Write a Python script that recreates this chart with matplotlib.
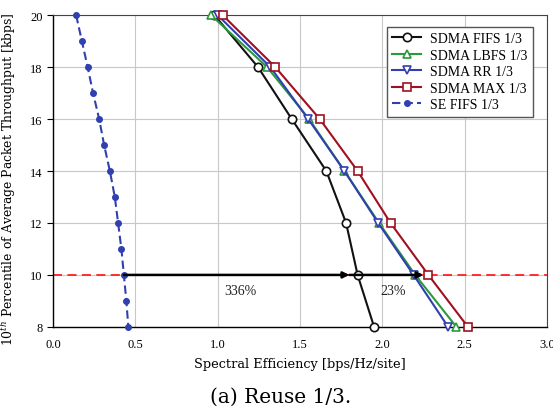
import matplotlib
matplotlib.use("Agg")
import matplotlib.pyplot as plt

# throughput levels (10th percentile, kbps)
Y_SDMA = [20, 18, 16, 14, 12, 10, 8]
Y_SE = [20, 19, 18, 17, 16, 15, 14, 13, 12, 11, 10, 9, 8]

# spectral efficiency for each scheme
SE_FIFS = [0.14, 0.175, 0.21, 0.243, 0.28, 0.31, 0.345, 0.375, 0.395, 0.415, 0.43, 0.445, 0.457]
SDMA_FIFS = [0.98, 1.245, 1.45, 1.66, 1.78, 1.85, 1.95]
SDMA_LBFS = [0.96, 1.30, 1.555, 1.77, 1.98, 2.20, 2.45]
SDMA_RR = [1.00, 1.32, 1.55, 1.77, 1.975, 2.19, 2.40]
SDMA_MAX = [1.03, 1.35, 1.62, 1.85, 2.05, 2.28, 2.52]

REF_LEVEL = 10
GAIN_LABELS = ["336%", "23%"]

SERIES = [
    ("SDMA FIFS 1/3", SDMA_FIFS, "#111111", "o"),
    ("SDMA LBFS 1/3", SDMA_LBFS, "#2a9a3a", "^"),
    ("SDMA RR 1/3", SDMA_RR, "#3040b0", "v"),
    ("SDMA MAX 1/3", SDMA_MAX, "#a01020", "s"),
]

plt.rcParams.update({
    "font.family": ["Liberation Serif", "DejaVu Serif"],
    "font.size": 9,
    "mathtext.fontset": "dejavuserif",
})

fig = plt.figure(figsize=(5.53, 4.14), dpi=100)
ax = fig.add_axes([0.096, 0.208, 0.893, 0.753])

ax.axhline(REF_LEVEL, color="#ff2020", linestyle=(0, (5, 3)), linewidth=1.3, zorder=1)

for label, xs, color, marker in SERIES:
    ax.plot(xs, Y_SDMA, color=color, marker=marker, markersize=6,
            markerfacecolor="white", markeredgewidth=1.2, linewidth=1.5,
            label=label, zorder=3, clip_on=False)

ax.plot(SE_FIFS, Y_SE, color="#3040b0", linestyle=(0, (4, 2)), marker="o",
        markersize=4, linewidth=1.5, label="SE FIFS 1/3", zorder=3, clip_on=False)

# gain arrows at the reference throughput
se_ref = SE_FIFS[Y_SE.index(REF_LEVEL)]
fifs_ref = SDMA_FIFS[Y_SDMA.index(REF_LEVEL)]
max_ref = SDMA_MAX[Y_SDMA.index(REF_LEVEL)]
arrow = dict(arrowstyle="-|>", color="black", linewidth=1.8, mutation_scale=9,
             shrinkA=0, shrinkB=0)
ax.annotate("", xy=(fifs_ref - 0.05, REF_LEVEL), xytext=(se_ref, REF_LEVEL),
            arrowprops=arrow, zorder=4)
ax.annotate("", xy=(max_ref - 0.03, REF_LEVEL), xytext=(fifs_ref - 0.05, REF_LEVEL),
            arrowprops=arrow, zorder=4)
ax.text((se_ref + fifs_ref) / 2, REF_LEVEL - 0.6, GAIN_LABELS[0],
        ha="center", va="center", fontsize=10, color="#222222")
ax.text((fifs_ref + max_ref) / 2, REF_LEVEL - 0.6, GAIN_LABELS[1],
        ha="center", va="center", fontsize=10, color="#222222")

ax.set_xlim(0, 3.0)
ax.set_ylim(8, 20)
ax.set_xticks([0.0, 0.5, 1.0, 1.5, 2.0, 2.5, 3.0])
ax.set_xticklabels(["0.0", "0.5", "1.0", "1.5", "2.0", "2.5", "3.0"])
ax.set_yticks([8, 10, 12, 14, 16, 18, 20])
ax.grid(True, color="#c8c8c8", linewidth=0.8)
ax.set_axisbelow(True)
ax.tick_params(axis="x", length=0, pad=8)
ax.tick_params(axis="y", length=4, direction="out")
for side in ["top", "right"]:
    ax.spines[side].set_color("#444444")
for side in ["left", "bottom"]:
    ax.spines[side].set_color("black")
    ax.spines[side].set_linewidth(1.0)

ax.set_xlabel("Spectral Efficiency [bps/Hz/site]", family="DejaVu Serif",
              fontsize=9.3, labelpad=5)
ax.set_ylabel(r"10$^{th}$ Percentile of Average Packet Throughput [kbps]",
              family="DejaVu Serif", fontsize=8.9)
ax.yaxis.set_label_coords(-0.072, 0.478)

ax.legend(loc="upper right", bbox_to_anchor=(0.985, 0.985), frameon=True,
          fancybox=False, edgecolor="#555555", framealpha=1.0, fontsize=10,
          handlelength=2.1, labelspacing=0.25, borderpad=0.4, handletextpad=0.6)

fig.text(0.507, 0.04, "(a) Reuse 1/3.", ha="center", va="center",
         fontsize=14.5, family="DejaVu Serif")

fig.savefig("out.png", dpi=100)
plt.close(fig)
